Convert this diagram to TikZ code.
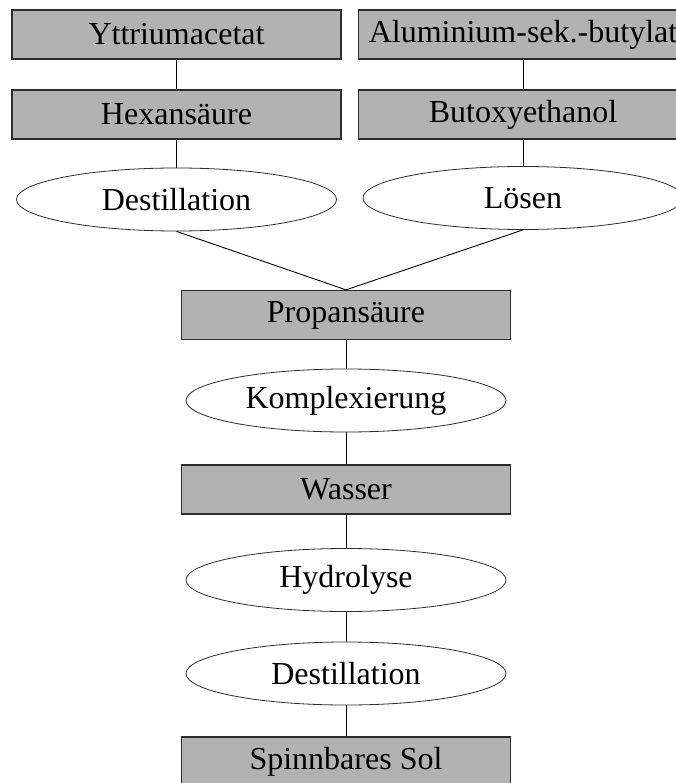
\documentclass[tikz,border=0pt]{standalone}
\usepackage{fontspec}
\setmainfont{Liberation Serif}
\usetikzlibrary{shapes.geometric}
\definecolor{boxgray}{RGB}{178,178,178}
\definecolor{edgegray}{RGB}{45,45,45}
\begin{document}
\begin{tikzpicture}[x=1pt,y=-1pt,
  every node/.style={font=\fontsize{32}{37}\selectfont, inner sep=0pt},
  stoff/.style={draw=edgegray, line width=1.3pt, fill=boxgray, rectangle, minimum width=329pt, minimum height=49pt},
  prozess/.style={draw=edgegray, line width=0.8pt, fill=white, ellipse, minimum width=320pt, minimum height=63pt},
  link/.style={draw=black, line width=0.9pt}]
\useasboundingbox (0,0) rectangle (675,783);
\node[stoff] (yac) at (176.5,34.5) {Yttriumacetat};
\node[stoff] (hex) at (176.5,114.5) {Hexansäure};
\node[prozess] (dest1) at (176.5,199.5) {Destillation};
\node[stoff] (alu) at (523,34.5) {Aluminium-sek.-butylat};
\node[stoff] (but) at (523,114.5) {Butoxyethanol};
\node[prozess] (loes) at (523,198) {Lösen};
\node[stoff] (prop) at (346,315) {Propansäure};
\node[prozess] (kompl) at (346,400.5) {Komplexierung};
\node[stoff] (wass) at (346,489.5) {Wasser};
\node[prozess] (hydro) at (346,580) {Hydrolyse};
\node[prozess] (dest2) at (346,673.5) {Destillation};
\node[stoff] (sol) at (346,761.5) {Spinnbares Sol};
\draw[link] (yac.south) -- (hex.north);
\draw[link] (hex.south) -- (dest1.north);
\draw[link] (alu.south) -- (but.north);
\draw[link] (but.south) -- (loes.north);
\draw[link] (dest1.south) -- (prop.north);
\draw[link] (loes.south) -- (prop.north);
\draw[link] (prop.south) -- (kompl.north);
\draw[link] (kompl.south) -- (wass.north);
\draw[link] (wass.south) -- (hydro.north);
\draw[link] (hydro.south) -- (dest2.north);
\draw[link] (dest2.south) -- (sol.north);
\end{tikzpicture}
\end{document}
